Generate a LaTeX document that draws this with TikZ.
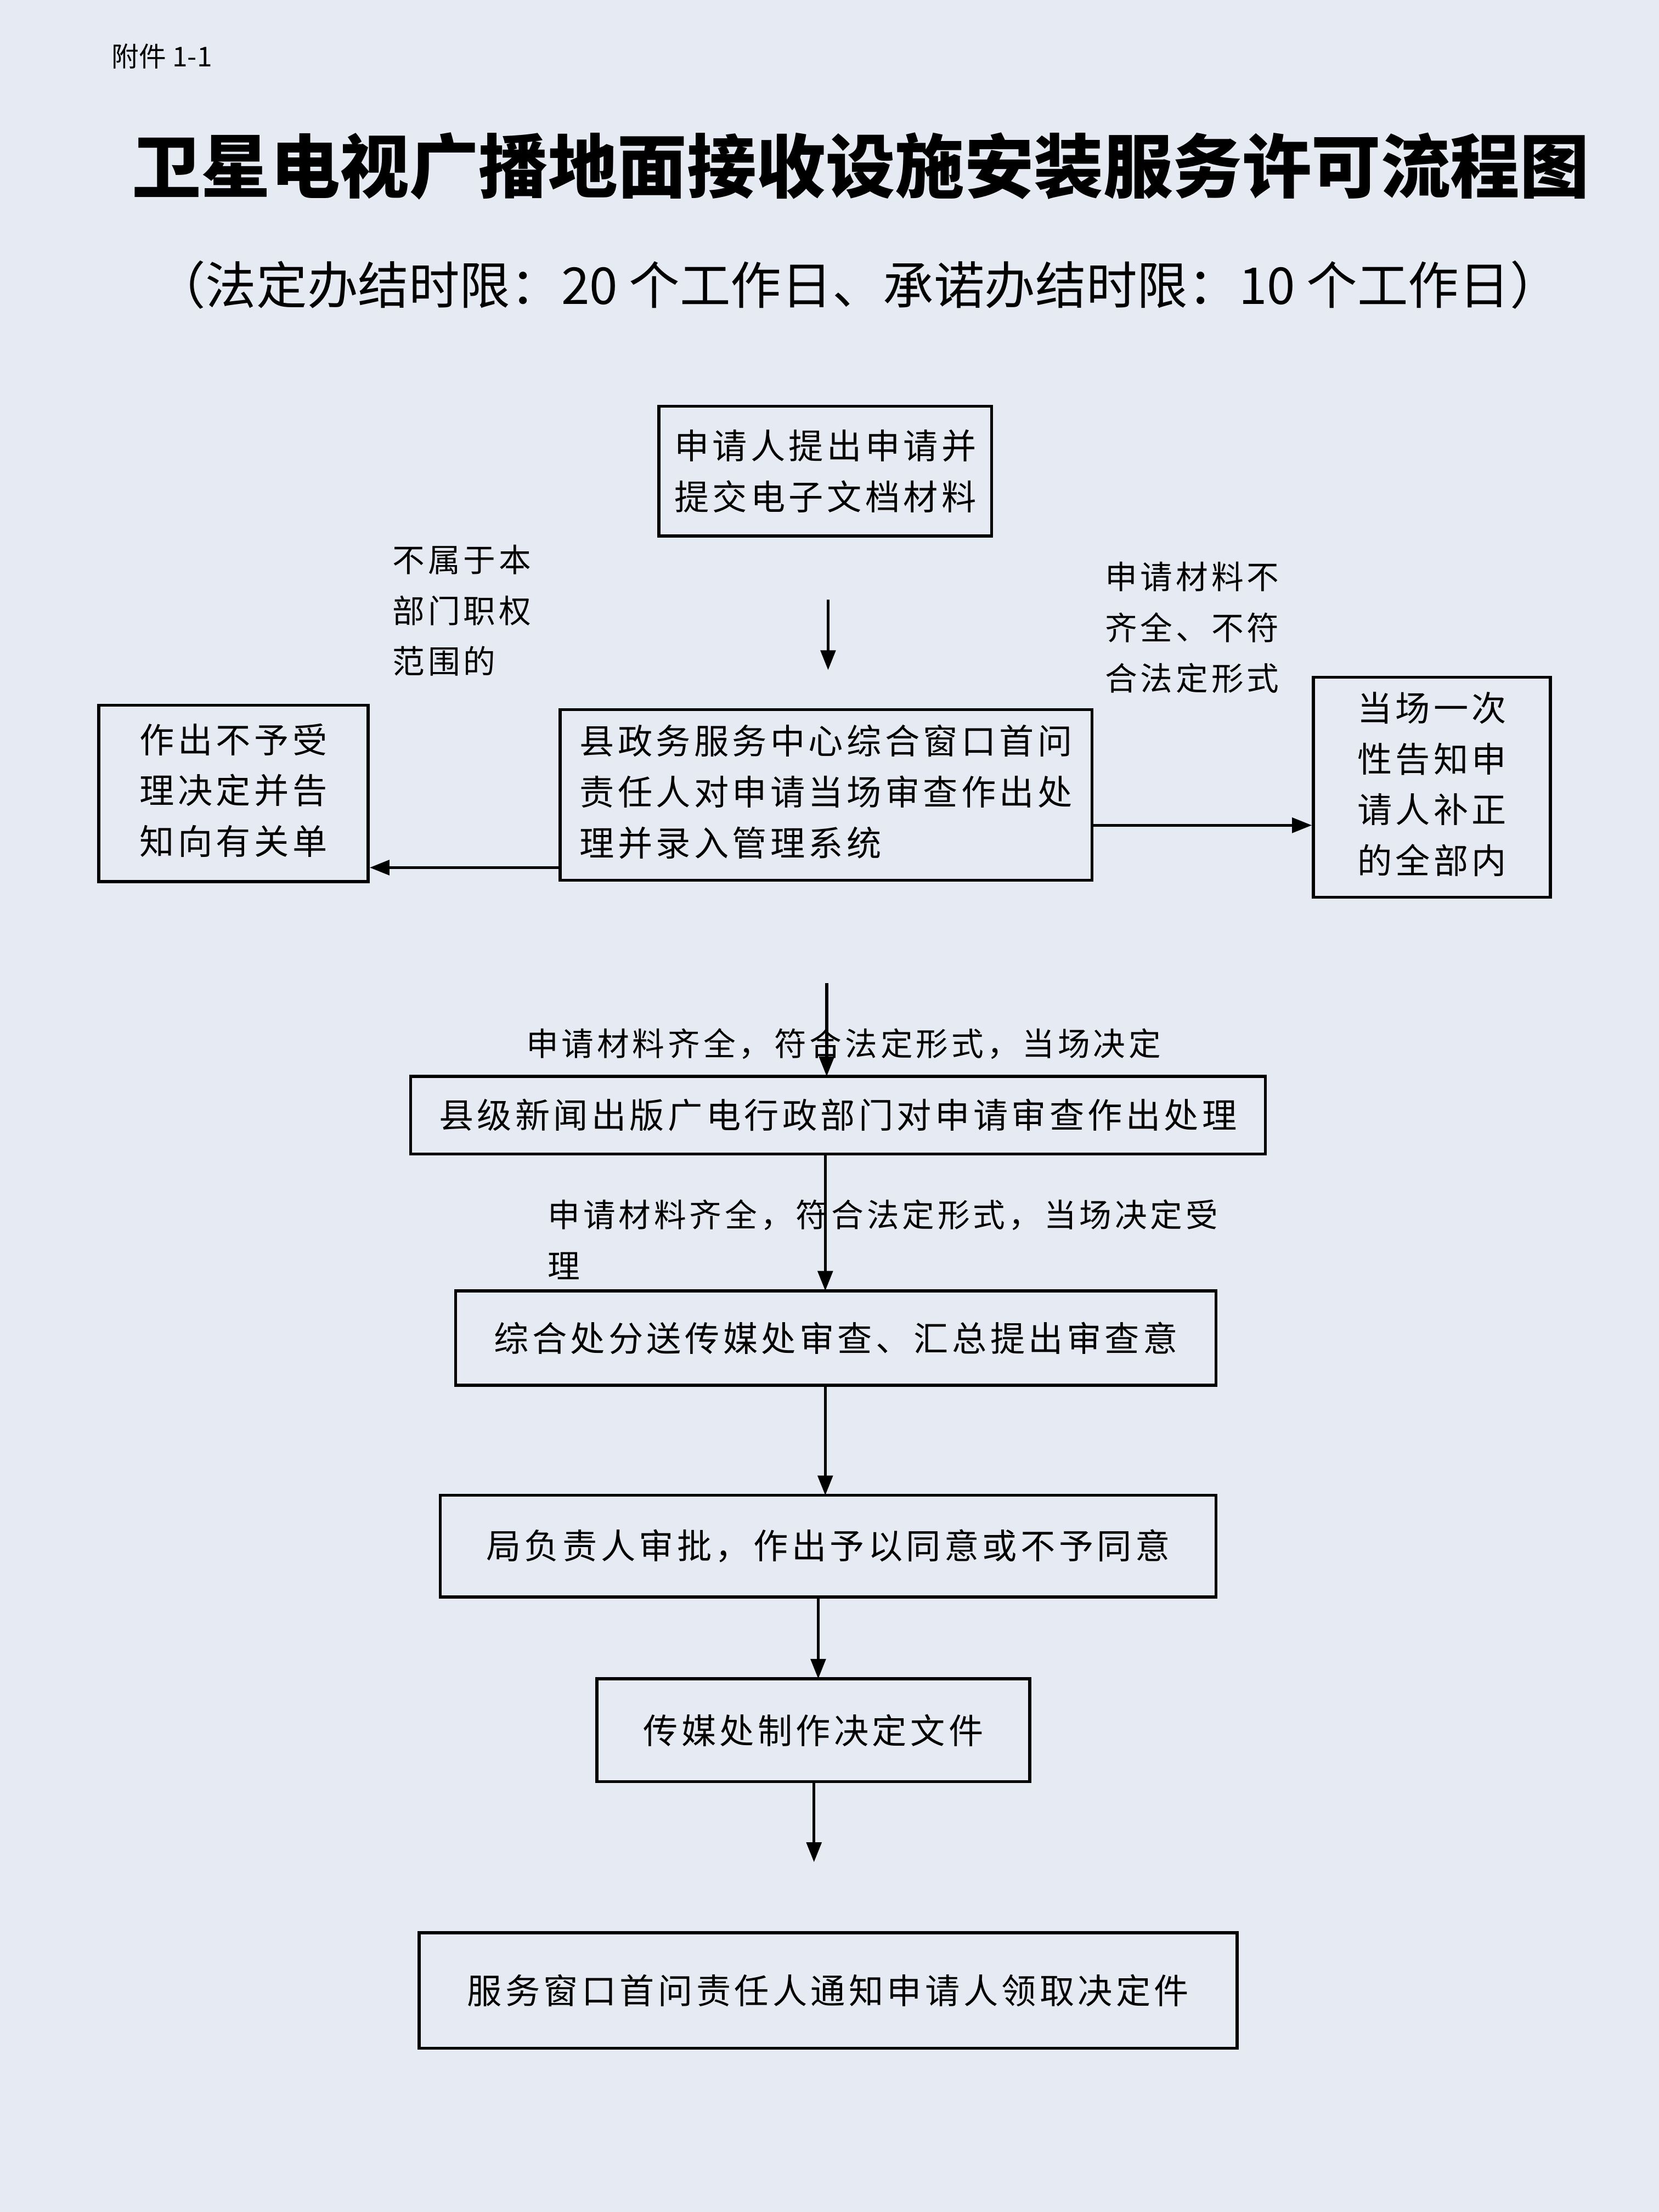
\documentclass[tikz,border=0pt]{standalone}
\usepackage{fontspec}
\setmainfont{Noto Sans CJK SC}
\newfontfamily\boxfont[LetterSpace=10]{Noto Sans CJK SC}
\usetikzlibrary{arrows.meta}
\begin{document}
\begin{tikzpicture}[x=0.02cm,y=-0.02cm,
 box/.style={draw,line width=1.2pt,align=center,inner sep=0pt,font=\boxfont\fontsize{14}{20.5}\selectfont},
 lbl/.style={align=left,inner sep=0pt,font=\boxfont\fontsize{13}{20.5}\selectfont},
 arr/.style={line width=1.2pt,-{Triangle[length=8pt,width=6pt]}}]
\fill[color={rgb,255:red,230;green,234;blue,243}] (0,0) rectangle (1176,1568);
\useasboundingbox (0,0) rectangle (1176,1568);
\node[anchor=west,font=\fontsize{11}{13}\selectfont] (att) at (73,40) {附件 1-1};
\node[font=\fontsize{28}{32}\selectfont\bfseries] (title) at (610,118) {卫星电视广播地面接收设施安装服务许可流程图};
\node[font=\fontsize{20.5}{24}\selectfont] (sub) at (608,202) {（法定办结时限：20 个工作日、承诺办结时限：10 个工作日）};
\node[box,minimum width=4.72cm,minimum height=1.84cm] (top) at (585,334) {申请人提出申请并\\提交电子文档材料};
\node[box,minimum width=7.54cm,minimum height=2.42cm] (ctr) at (585.5,563.5) {\begin{tabular}{@{}l@{}}县政务服务中心综合窗口首问\\责任人对申请当场审查作出处\\理并录入管理系统\end{tabular}};
\node[box,minimum width=3.82cm,minimum height=2.5cm] (left) at (165.5,562.5) {\begin{tabular}{@{}l@{}}作出不予受\\理决定并告\\知向有关单\end{tabular}};
\node[box,minimum width=3.36cm,minimum height=3.12cm] (right) at (1015,558) {\begin{tabular}{@{}l@{}}当场一次\\性告知申\\请人补正\\的全部内\end{tabular}};
\node[lbl,anchor=north west] (ll) at (278,386) {不属于本\\部门职权\\范围的};
\node[lbl,anchor=north west] (rl) at (783,398) {申请材料不\\齐全、不符\\合法定形式};
\coordinate (a1) at (587,425); \coordinate (a2) at (587,475);
\draw[arr] (a1) -- (a2);
\draw[arr] ([yshift=-1.03cm]ctr.west) -- ([yshift=-1.03cm]ctr.west -| left.east);
\draw[arr] ([yshift=-0.43cm]ctr.east) -- ([yshift=-0.43cm]ctr.east -| right.west);
\node[box,minimum width=12.12cm,minimum height=1.1cm] (b1) at (594,790.5) {县级新闻出版广电行政部门对申请审查作出处理};
\node[box,minimum width=10.78cm,minimum height=1.34cm] (b2) at (592.5,948.5) {综合处分送传媒处审查、汇总提出审查意};
\node[box,minimum width=11.0cm,minimum height=1.44cm] (b3) at (587,1096) {局负责人审批，作出予以同意或不予同意};
\node[box,minimum width=6.14cm,minimum height=1.46cm] (b4) at (576.5,1226.5) {传媒处制作决定文件};
\node[box,minimum width=11.6cm,minimum height=1.64cm] (b5) at (587,1411) {服务窗口首问责任人通知申请人领取决定件};
\coordinate (c1) at (586,697);
\draw[arr] (c1) -- (586,763);
\node[lbl] (l1) at (598,740) {申请材料齐全，符合法定形式，当场决定};
\draw[arr] (585,818) -- (585,915);
\node[lbl,anchor=north west] (l2) at (388,850) {申请材料齐全，符合法定形式，当场决定受\\理};
\draw[arr] (585,982) -- (585,1060);
\draw[arr] (580,1132) -- (580,1190);
\coordinate (d1) at (577,1263); \coordinate (d2) at (577,1320);
\draw[arr] (d1) -- (d2);
\end{tikzpicture}
\end{document}
